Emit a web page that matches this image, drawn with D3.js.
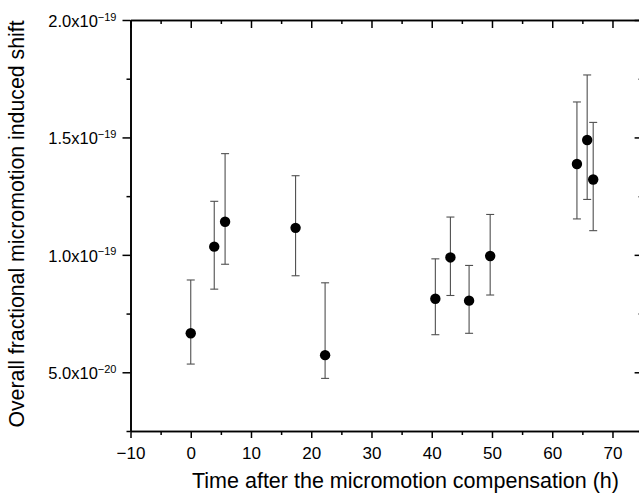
<!DOCTYPE html>
<html>
<head>
<meta charset="utf-8">
<script src="https://cdn.jsdelivr.net/npm/d3@7"></script>
<style>
  html, body { margin: 0; padding: 0; background: #fff; }
  svg { display: block; }
  svg text { font-family: 'Liberation Sans', Arial, sans-serif; }
</style>
</head>
<body>
<div id="chart"></div>
<script>
// time after compensation (h)
let hours = [0, 3.9, 5.7, 17.4, 22.3, 40.6, 43.1, 46.2, 49.7, 64.1, 65.8, 66.8];
// fractional shift and its error bar bounds
let shift = [6.66e-20, 1.035e-19, 1.141e-19, 1.115e-19, 5.73e-20, 8.13e-20, 9.89e-20, 8.05e-20, 9.95e-20, 1.387e-19, 1.489e-19, 1.321e-19];
let upper = [8.93e-20, 1.228e-19, 1.431e-19, 1.337e-19, 8.81e-20, 9.83e-20, 1.161e-19, 9.55e-20, 1.172e-19, 1.651e-19, 1.766e-19, 1.564e-19];
let lower = [5.35e-20, 8.54e-20, 9.60e-20, 9.11e-20, 4.74e-20, 6.60e-20, 8.27e-20, 6.66e-20, 8.29e-20, 1.153e-19, 1.236e-19, 1.103e-19];

let xTicks = [-10, 0, 10, 20, 30, 40, 50, 60, 70];
let xMinor = [-5, 5, 15, 25, 35, 45, 55, 65, 75];
let yTicks = [5.0e-20, 1.0e-19, 1.5e-19, 2.0e-19];
let yMinor = [2.5e-20, 7.5e-20, 1.25e-19, 1.75e-19];

let width = 639,
  height = 495;

let x = d3.scaleLinear().domain([-10, 75]).range([130.5, 642.6]);
let y = d3.scaleLinear().domain([2.5e-20, 2.0e-19]).range([431, 20]);

const svg = d3.select('#chart').append('svg')
  .attr('width', width)
  .attr('height', height);

const data = hours.map((h, i) => ({ h: h, v: shift[i], hi: upper[i], lo: lower[i] }));

// error bars
const eb = svg.append('g')
  .attr('stroke', '#505050')
  .attr('stroke-width', 1.1);

eb.selectAll('line.bar')
  .data(data)
  .enter().append('line')
  .attr('class', 'bar')
  .attr('x1', d => x(d.h)).attr('x2', d => x(d.h))
  .attr('y1', d => y(d.hi)).attr('y2', d => y(d.lo));

eb.selectAll('line.caphi')
  .data(data)
  .enter().append('line')
  .attr('class', 'caphi')
  .attr('x1', d => x(d.h) - 4).attr('x2', d => x(d.h) + 4)
  .attr('y1', d => y(d.hi)).attr('y2', d => y(d.hi));

eb.selectAll('line.caplo')
  .data(data)
  .enter().append('line')
  .attr('class', 'caplo')
  .attr('x1', d => x(d.h) - 4).attr('x2', d => x(d.h) + 4)
  .attr('y1', d => y(d.lo)).attr('y2', d => y(d.lo));

svg.append('g').selectAll('circle')
  .data(data)
  .enter().append('circle')
  .attr('cx', d => x(d.h))
  .attr('cy', d => y(d.v))
  .attr('r', 5.2)
  .attr('fill', '#000');

// axes: major ticks with labels, minor ticks separately
function frame(axis, tr) {
  const g = svg.append('g')
    .attr('transform', tr)
    .call(axis);
  g.select('.domain').attr('stroke-width', 1.6);
  g.selectAll('.tick line').attr('stroke-width', 1.5);
  return g;
}

let fmtSci = d3.format('.1e');

// bottom
const gx = frame(d3.axisBottom(x).tickValues(xTicks).tickSizeInner(7).tickSizeOuter(0)
  .tickFormat(d => d < 0 ? '\u2212' + Math.abs(d) : d), `translate(0, ${y.range()[0]})`);
gx.selectAll('.tick text')
  .attr('y', 27.5)
  .attr('dy', null)
  .style('font-size', '17px')
  .attr('fill', '#000');
frame(d3.axisBottom(x).tickValues(xMinor).tickSizeInner(4).tickSizeOuter(0).tickFormat(''),
  `translate(0, ${y.range()[0]})`);

// top
frame(d3.axisBottom(x).tickValues(xTicks).tickSizeInner(8).tickSizeOuter(0).tickFormat(''),
  `translate(0, ${y.range()[1]})`);
frame(d3.axisBottom(x).tickValues(xMinor).tickSizeInner(4).tickSizeOuter(0).tickFormat(''),
  `translate(0, ${y.range()[1]})`);

// left
const gy = frame(d3.axisLeft(y).tickValues(yTicks).tickSizeInner(8).tickSizeOuter(0).tickFormat(''),
  `translate(${x.range()[0]}, 0)`);
frame(d3.axisLeft(y).tickValues(yMinor).tickSizeInner(4).tickSizeOuter(0).tickFormat(''),
  `translate(${x.range()[0]}, 0)`);

const lab = gy.selectAll('.tick').append('text')
  .attr('x', -14)
  .attr('y', 0)
  .attr('text-anchor', 'end')
  .attr('fill', '#000')
  .style('font-size', '16.5px');

lab.append('tspan')
  .attr('dy', 6.5)
  .text(d => fmtSci(d).split('e')[0] + 'x10');
lab.append('tspan')
  .attr('dy', -6.5)
  .style('font-size', '11px')
  .text(d => '\u2212' + Math.abs(+fmtSci(d).split('e')[1]));

// right
frame(d3.axisRight(y).tickValues(yTicks).tickSizeInner(-8).tickSizeOuter(0).tickFormat(''),
  `translate(${x.range()[1]}, 0)`);
frame(d3.axisRight(y).tickValues(yMinor).tickSizeInner(-4).tickSizeOuter(0).tickFormat(''),
  `translate(${x.range()[1]}, 0)`);

// titles
svg.append('text')
  .attr('x', 405.5)
  .attr('y', 488)
  .attr('text-anchor', 'middle')
  .style('font-size', '21.5px')
  .text('Time after the micromotion compensation (h)');

svg.append('text')
  .attr('transform', 'translate(23.5, 224) rotate(-90)')
  .attr('text-anchor', 'middle')
  .style('font-size', '21.3px')
  .text('Overall fractional micromotion induced shift');
</script>
</body>
</html>
